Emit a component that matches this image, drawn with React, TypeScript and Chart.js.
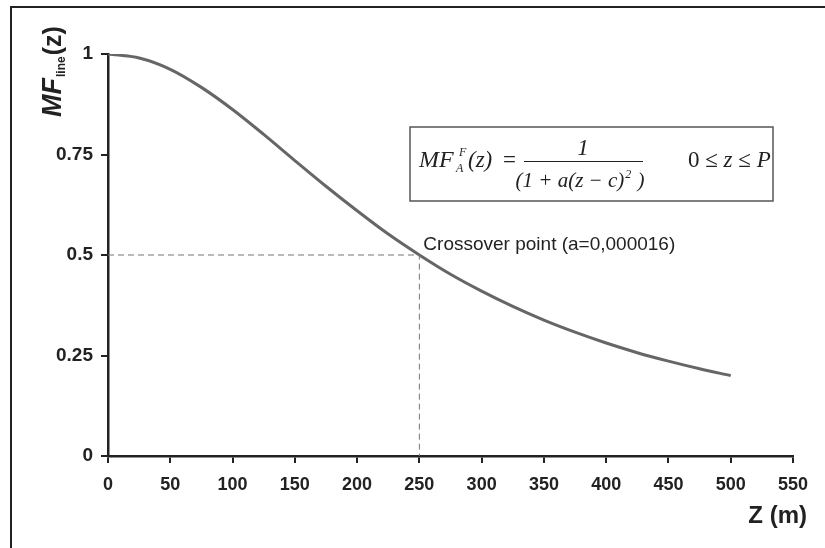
import React, { useEffect, useRef } from "react";
import { Chart, registerables } from "chart.js";

Chart.register(...registerables);

// Distance z (m) and membership value
const zValues = [0, 25, 50, 75, 100, 125, 150, 175, 200, 225, 250, 275, 300, 325, 350, 375, 400, 425, 450, 475, 500];
const mfValues = [1, 0.99, 0.962, 0.917, 0.862, 0.8, 0.735, 0.671, 0.61, 0.552, 0.5, 0.452, 0.41, 0.372, 0.338, 0.308, 0.281, 0.257, 0.236, 0.217, 0.2];

// Crossover guide (dashed lines)
const crossoverZ = [0, 250, 250];
const crossoverMF = [0.5, 0.5, 0];

const xTicks = [0, 50, 100, 150, 200, 250, 300, 350, 400, 450, 500, 550];
const yTicks = [0, 0.25, 0.5, 0.75, 1];

const SANS = "'Liberation Sans', Arial, sans-serif";
const SERIF = "'Liberation Serif', 'Times New Roman', serif";

const decorPlugin = {
  id: "decor",
  afterDraw(chart: any) {
    const ctx = chart.ctx as CanvasRenderingContext2D;
    const xs = chart.scales.x;
    const ys = chart.scales.y;
    ctx.save();
    // frame (top and left)
    ctx.strokeStyle = "#222";
    ctx.lineWidth = 2;
    ctx.beginPath();
    ctx.moveTo(11, 548);
    ctx.lineTo(11, 7);
    ctx.lineTo(825, 7);
    ctx.stroke();

    ctx.fillStyle = "#222";
    ctx.textBaseline = "alphabetic";

    // Y title rotated
    ctx.save();
    ctx.translate(61, 117);
    ctx.rotate(-Math.PI / 2);
    ctx.textAlign = "left";
    ctx.font = `italic bold 27px ${SANS}`;
    ctx.fillText("MF", 0, 0);
    let w = ctx.measureText("MF").width;
    ctx.font = `bold 12px ${SANS}`;
    ctx.fillText("line", w + 1, 4);
    w += ctx.measureText("line").width + 2;
    ctx.font = `bold 25px ${SANS}`;
    ctx.fillText("(z)", w, 0);
    ctx.restore();

    // X title
    ctx.font = `bold 24px ${SANS}`;
    ctx.textAlign = "right";
    ctx.fillText("Z (m)", 807, 523);

    // Crossover label
    ctx.font = `19px ${SANS}`;
    ctx.textAlign = "left";
    ctx.fillText("Crossover point (a=0,000016)", xs.getPixelForValue(250) + 4, ys.getPixelForValue(0.5) - 5);

    // Formula box
    ctx.fillStyle = "#fff";
    ctx.fillRect(410, 127, 363, 74);
    ctx.strokeStyle = "#555";
    ctx.lineWidth = 1.5;
    ctx.strokeRect(410, 127, 363, 74);
    ctx.fillStyle = "#222";
    ctx.textAlign = "left";
    ctx.font = `italic 24px ${SERIF}`;
    ctx.fillText("MF", 419, 167);
    ctx.font = `italic 12px ${SERIF}`;
    ctx.fillText("F", 459, 156);
    ctx.fillText("A", 456, 172);
    ctx.font = `italic 23px ${SERIF}`;
    ctx.fillText("(z)", 468, 167);
    ctx.font = `23px ${SERIF}`;
    ctx.fillText("=", 503, 167);
    // numerator
    ctx.font = `italic 23px ${SERIF}`;
    ctx.textAlign = "center";
    ctx.fillText("1", 583, 155);
    // bar
    ctx.strokeStyle = "#222";
    ctx.lineWidth = 1;
    ctx.beginPath();
    ctx.moveTo(524, 161.5);
    ctx.lineTo(643, 161.5);
    ctx.stroke();
    // denominator
    ctx.textAlign = "left";
    ctx.font = `italic 21px ${SERIF}`;
    const d1 = "(1 + a(z \u2212 c)";
    const d1w = ctx.measureText(d1).width;
    ctx.font = `italic 12px ${SERIF}`;
    const d2w = ctx.measureText("2").width;
    ctx.font = `italic 21px ${SERIF}`;
    const d3 = " )";
    const d3w = ctx.measureText(d3).width;
    const total = d1w + d2w + 2 + d3w;
    let dx = 580 - total / 2;
    ctx.fillText(d1, dx, 187);
    dx += d1w + 1;
    ctx.font = `italic 12px ${SERIF}`;
    ctx.fillText("2", dx, 178);
    dx += d2w + 1;
    ctx.font = `italic 21px ${SERIF}`;
    ctx.fillText(d3, dx, 187);
    // range
    let rx = 688;
    ctx.font = `23px ${SERIF}`;
    ctx.fillText("0 \u2264 ", rx, 167);
    rx += ctx.measureText("0 \u2264 ").width;
    ctx.font = `italic 23px ${SERIF}`;
    ctx.fillText("z", rx, 167);
    rx += ctx.measureText("z").width;
    ctx.font = `23px ${SERIF}`;
    ctx.fillText(" \u2264 ", rx, 167);
    rx += ctx.measureText(" \u2264 ").width;
    ctx.font = `italic 23px ${SERIF}`;
    ctx.fillText("P", rx, 167);
    ctx.restore();
  },
};

export default function App() {
  const ref = useRef<HTMLCanvasElement>(null);
  useEffect(() => {
    if (!ref.current) return;
    const chart = new Chart(ref.current, {
      type: "line",
      data: {
        datasets: [
          {
            data: crossoverZ.map((z, i) => ({ x: z, y: crossoverMF[i] })),
            borderColor: "#777",
            borderWidth: 1,
            borderDash: [6, 4],
            pointRadius: 0,
            tension: 0,
          },
          {
            data: zValues.map((z, i) => ({ x: z, y: mfValues[i] })),
            borderColor: "#666",
            borderWidth: 3,
            pointRadius: 0,
            cubicInterpolationMode: "monotone",
          },
        ],
      },
      options: {
        animation: false,
        responsive: false,
        maintainAspectRatio: false,
        layout: { padding: { left: 0, right: 32, top: 54, bottom: 0 } },
        plugins: { legend: { display: false }, tooltip: { enabled: false }, title: { display: false } },
        scales: {
          x: {
            type: "linear",
            min: 0,
            max: 550,
            afterFit: (s: any) => {
              s.height = 92;
            },
            afterBuildTicks: (s: any) => {
              s.ticks = xTicks.map((v) => ({ value: v }));
            },
            grid: { drawOnChartArea: false, drawTicks: true, tickLength: 7, color: "#222", lineWidth: 2 },
            border: { display: true, color: "#222", width: 2.5 },
            ticks: { color: "#222", font: { family: SANS, size: 18, weight: "bold" }, padding: 11 },
          },
          y: {
            type: "linear",
            min: 0,
            max: 1,
            afterFit: (s: any) => {
              s.width = 108;
            },
            afterBuildTicks: (s: any) => {
              s.ticks = yTicks.map((v) => ({ value: v }));
            },
            grid: { drawOnChartArea: false, drawTicks: true, tickLength: 7, color: "#222", lineWidth: 2 },
            border: { display: true, color: "#222", width: 2.5 },
            ticks: {
              color: "#222",
              font: { family: SANS, size: 19, weight: "bold" },
              padding: 8,
              callback: (v: any) => String(v),
            },
          },
        },
      },
      plugins: [decorPlugin],
    });
    return () => chart.destroy();
  }, []);
  return (
    <div style={{ position: "fixed", left: 0, top: 0, width: 825, height: 548, background: "#fff" }}>
      <canvas ref={ref} width={825} height={548} style={{ display: "block" }} />
    </div>
  );
}
